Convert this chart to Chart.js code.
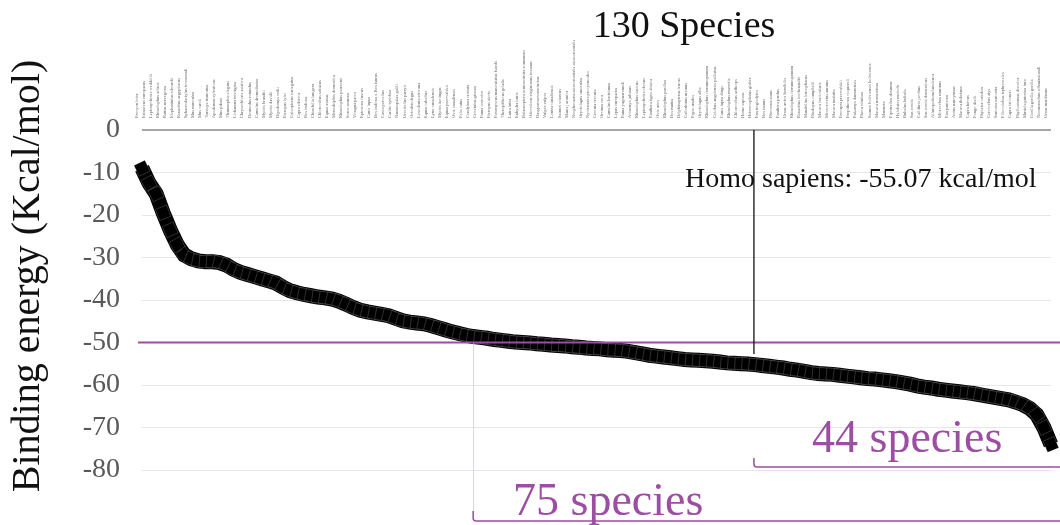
<!DOCTYPE html>
<html>
<head>
<meta charset="utf-8">
<script src="https://cdn.jsdelivr.net/npm/chart.js@4.4.1/dist/chart.umd.min.js"></script>
<style>
    html, body { margin: 0; padding: 0; background: #fff; overflow: hidden; }
    #wrap { position: relative; width: 1060px; height: 525px; }
</style>
</head>
<body>
<div id="wrap"><canvas id="grafico" width="1060" height="525"></canvas></div>
<script>
// especies ordenadas pela energia de ligacao
const especies = [
    'Procyon lotor', 'Erinaceus europaeus', 'Leptonychotes weddellii', 'Rhinolophus affinis', 'Rattus norvegicus',
    'Elephantulus edwardii', 'Rousettus aegyptiacus', 'Sphaerodactylus townsendi', 'Mus musculus', 'Mus caroli',
    'Tursiops truncatus', 'Apodemus sylvaticus', 'Mus pahari', 'Thamnophis elegans', 'Lichanura trivirgata',
    'Chrysochloris asiatica', 'Desmodus rotundus', 'Camelus dromedarius', 'Myotis brandtii', 'Myotis davidii',
    'Dipodomys ordii', 'Pteropus lylei', 'Galeopterus variegatus', 'Capra sibirica', 'Bos indicus',
    'Chinchilla lanigera', 'Chlorocebus sabaeus', 'Equus asinus', 'Monodelphis domestica', 'Rhinolophus pearsonii',
    'Sorex araneus', 'Vicugna pacos', 'Eptesicus fuscus', 'Canis lupus', 'Bos indicus x Bos taurus',
    'Cavia porcellus', 'Carlito syrichta', 'Nannospalax galili', 'Urocitellus parryii', 'Octodon degus',
    'Loxodonta africana', 'Equus caballus', 'Lynx canadensis', 'Myotis lucifugus', 'Equus przewalskii',
    'Ovis canadensis', 'Felis catus', 'Condylura cristata', 'Cricetulus griseus', 'Puma concolor',
    'Pteropus alecto', 'Peromyscus maniculatus bairdii', 'Theropithecus gelada', 'Lutra lutra', 'Enhydra lutris',
    'Balaenoptera acutorostrata scammoni', 'Odocoileus virginianus texanus', 'Dasypus novemcinctus', 'Vulpes vulpes', 'Lontra canadensis',
    'Saimiri sciureus', 'Manis javanica', 'Neophocaena asiaeorientalis asiaeorientalis', 'Oryctolagus cuniculus', 'Nyctereutes procyonoides',
    'Crocuta crocuta', 'Orcinus orca', 'Camelus bactrianus', 'Lepus europaeus', 'Puma yagouaroundi',
    'Acinonyx jubatus', 'Rhinolophus sinicus', 'Leptonychotes obesus', 'Panthera tigris altaica', 'Ovis aries',
    'Rhinolophus pusillus', 'Bos mutus', 'Delphinapterus leucas', 'Callorhinus ursinus', 'Papio anubis',
    'Oryctolagus alba', 'Rhinolophus ferrumequinum', 'Colobus angolensis palliatus', 'Canis lupus dingo', 'Rhinolophus macrotis',
    'Chlorocebus aethiops', 'Homo sapiens', 'Heterocephalus glaber', 'Pan troglodytes', 'Bos taurus',
    'Phocoena sinus', 'Panthera pardus', 'Ursus arctos horribilis', 'Rhinolophus ferrumequinum', 'Rousettus leschenaultii',
    'Mandrillus leucophaeus', 'Phodopus campbelli', 'Macaca fascicularis', 'Mesocricetus auratus', 'Macaca mulatta',
    'Procapra przewalskii', 'Propithecus coquereli', 'Fukomys damarensis', 'Phoca vitulina', 'Saimiri boliviensis boliviensis',
    'Macaca nemestrina', 'Marmota', 'Pipistrellus abramus', 'Hylobates moloch', 'Bubalus bubalis',
    'Sus scrofa', 'Callithrix jacchus', 'Sus scrofa domesticus', 'Ailuropoda melanoleuca', 'Microcebus murinus',
    'Pan paniscus', 'Aotus nancymaae', 'Macaca thibetana', 'Capra hircus', 'Pongo abelii',
    'Physeter catodon', 'Cercocebus atys', 'Suricata suricatta', 'Piliocolobus tephrosceles', 'Capra falconeri',
    'Phyllostomus discolor', 'Mustela putorius furo', 'Gorilla gorilla gorilla', 'Neomonachus schauinslandi', 'Ursus maritimus'
];

// energia de ligacao (kcal/mol)
const energias = [
    -9, -12.5, -15, -19.5, -23.5, -27, -29.4, -30.3, -30.8, -31,
    -31, -31.2, -31.8, -32.8, -33.5, -34, -34.5, -35, -35.5, -36,
    -37, -37.8, -38.3, -38.7, -39, -39.3, -39.5, -39.8, -40.3, -41,
    -41.8, -42.4, -42.8, -43.1, -43.4, -43.7, -44.3, -44.9, -45.2, -45.4,
    -45.6, -46, -46.5, -47, -47.5, -47.9, -48.3, -48.6, -48.8, -49,
    -49.3, -49.5, -49.7, -49.9, -50, -50.1, -50.3, -50.4, -50.6, -50.7,
    -50.8, -51, -51.1, -51.3, -51.4, -51.5, -51.7, -51.8, -51.9, -52.1,
    -52.4, -52.7, -53, -53.2, -53.4, -53.6, -53.8, -54, -54.1, -54.2,
    -54.3, -54.4, -54.6, -54.8, -54.9, -55, -55.07, -55.2, -55.4, -55.6,
    -55.8, -56, -56.3, -56.5, -56.8, -57.1, -57.3, -57.4, -57.5, -57.7,
    -57.9, -58.1, -58.3, -58.5, -58.6, -58.8, -59, -59.2, -59.5, -59.8,
    -60.2, -60.5, -60.7, -61, -61.2, -61.4, -61.6, -61.8, -62, -62.3,
    -62.6, -62.9, -63.2, -63.5, -64, -64.6, -65.5, -67, -70, -74
];

const ticksY = [0, -10, -20, -30, -40, -50, -60, -70, -80];
const limiteEnergia = -50;
const indiceHomo = especies.indexOf('Homo sapiens');
const inicio75 = 47;

const roxo = '#9b4ea2';
const serif = "'Liberation Serif', 'Times New Roman', serif";

// inclinacao de cada ponto, para girar os quadradinhos
function anguloPonto(c) {
    const { x, y } = c.chart.scales;
    const i = c.dataIndex;
    const a = Math.max(i - 1, 0), b = Math.min(i + 1, energias.length - 1);
    const dx = x.getPixelForValue(b) - x.getPixelForValue(a);
    const dy = y.getPixelForValue(energias[b]) - y.getPixelForValue(energias[a]);
    return Math.atan2(dy, dx) * 180 / Math.PI;
}

const anotacoes = {
    id: 'anotacoes',
    afterDatasetsDraw(chart) {
        const { ctx, chartArea, scales: { x, y } } = chart;
        const yLim = y.getPixelForValue(limiteEnergia);
        const xHomo = x.getPixelForValue(indiceHomo) + 6;
        const yHomo = y.getPixelForValue(energias[indiceHomo]);
        const x75 = x.getPixelForValue(inicio75);
        const direita = chart.width;

        ctx.save();

        // linha cinza vertical do inicio dos 75
        ctx.strokeStyle = '#d9d3de';
        ctx.lineWidth = 1;
        ctx.beginPath();
        ctx.moveTo(x75 + 0.5, yLim);
        ctx.lineTo(x75 + 0.5, 517);
        ctx.stroke();

        // linha -50
        ctx.strokeStyle = roxo;
        ctx.lineWidth = 2;
        ctx.beginPath();
        ctx.moveTo(chartArea.left - 4, yLim);
        ctx.lineTo(direita, yLim);
        ctx.stroke();

        // linha Homo sapiens
        ctx.strokeStyle = '#111';
        ctx.lineWidth = 1.3;
        ctx.beginPath();
        ctx.moveTo(xHomo, chartArea.top);
        ctx.lineTo(xHomo, yHomo - 10);
        ctx.stroke();

        ctx.fillStyle = '#111';
        ctx.font = '28px ' + serif;
        ctx.textAlign = 'left';
        ctx.textBaseline = 'alphabetic';
        ctx.fillText('Homo sapiens: -55.07 kcal/mol', 685, 187);

        // colchetes
        function colchete(x0, yb, alto) {
            ctx.strokeStyle = roxo;
            ctx.lineWidth = 1.5;
            ctx.beginPath();
            ctx.moveTo(x0, yb - alto);
            ctx.lineTo(x0, yb - 3);
            ctx.quadraticCurveTo(x0, yb, x0 + 3, yb);
            ctx.lineTo(direita, yb);
            ctx.stroke();
        }
        colchete(xHomo, 467, 9);
        colchete(x75, 521, 10);

        ctx.fillStyle = roxo;
        ctx.font = '46px ' + serif;
        ctx.textAlign = 'left';
        ctx.fillText('44 species', 812, 452);
        ctx.fillText('75 species', 513, 515);

        // titulo
        ctx.fillStyle = '#111';
        ctx.font = '38px ' + serif;
        ctx.textAlign = 'center';
        ctx.fillText('130 Species', 684, 37);

        // titulo do eixo y
        ctx.translate(28, 276);
        ctx.rotate(-Math.PI / 2);
        ctx.font = '40px ' + serif;
        ctx.textAlign = 'center';
        ctx.textBaseline = 'middle';
        ctx.fillText('Binding energy (Kcal/mol)', 0, 0);

        ctx.restore();
    }
};

new Chart(document.getElementById('grafico').getContext('2d'), {
    type: 'line',
    data: {
        labels: especies,
        datasets: [{
            data: energias,
            borderColor: '#000',
            borderWidth: 15,
            borderCapStyle: 'butt',
            borderJoinStyle: 'miter',
            pointStyle: 'rect',
            pointRadius: 8.5,
            pointRotation: anguloPonto,
            pointBackgroundColor: '#000',
            pointBorderColor: 'rgba(255,255,255,0.3)',
            pointBorderWidth: 0.6,
            tension: 0,
            clip: false
        }]
    },
    options: {
        responsive: false,
        devicePixelRatio: 1,
        animation: false,
        layout: { padding: { top: 0, right: 3, bottom: 55, left: 0 } },
        plugins: {
            legend: { display: false },
            tooltip: { enabled: false }
        },
        scales: {
            x: {
                position: 'top',
                offset: false,
                grid: { display: false },
                border: { display: false },
                ticks: {
                    autoSkip: false,
                    minRotation: 90,
                    maxRotation: 90,
                    padding: 4,
                    color: '#6e6e6e',
                    font: { family: serif, size: 4.5 }
                },
                afterFit: (scale) => { scale.height = 130; }
            },
            y: {
                min: -80,
                max: 0,
                afterBuildTicks: (scale) => { scale.ticks = ticksY.map(v => ({ value: v })); },
                grid: {
                    drawTicks: false,
                    color: (c) => c.tick && c.tick.value === 0 ? '#a6a6a6' : '#e6e6e6',
                    lineWidth: (c) => c.tick && c.tick.value === 0 ? 2 : 1
                },
                border: { display: false },
                ticks: {
                    padding: 22,
                    color: '#595959',
                    font: { family: serif, size: 28 }
                },
                afterFit: (scale) => { scale.width = 142; }
            }
        }
    },
    plugins: [anotacoes]
});
</script>
</body>
</html>
